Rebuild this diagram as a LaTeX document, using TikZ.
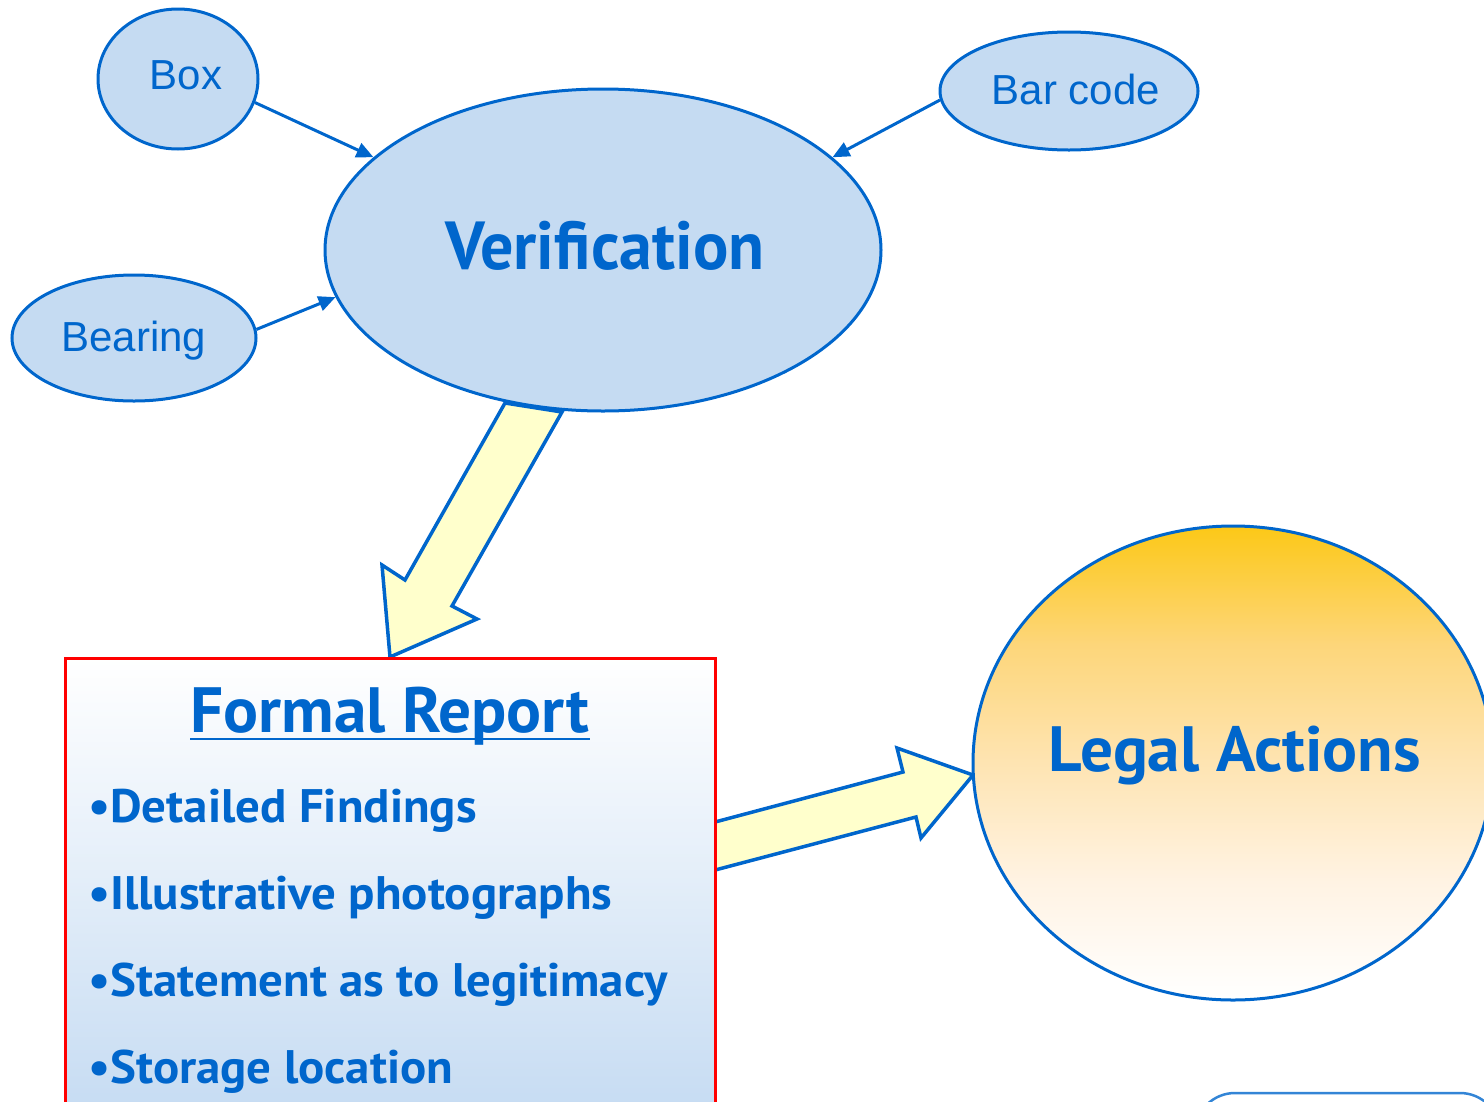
\documentclass[tikz,border=0pt]{standalone}
\usepackage{fontspec}
\setmainfont{Liberation Sans}
\newfontfamily\dinA[FakeStretch=0.97]{PT Sans}
\newfontfamily\dinB[FakeStretch=1.02]{PT Sans}
\newfontfamily\dinC[FakeStretch=1.04]{PT Sans}
\usetikzlibrary{shapes.geometric,arrows.meta}
\definecolor{eblue}{HTML}{0066CC}
\definecolor{efill}{HTML}{C5DBF2}
\definecolor{ayellow}{HTML}{FFFFCC}
\definecolor{lorange}{HTML}{FCC817}
\definecolor{lupper}{HTML}{FDD67A}
\definecolor{lmid}{HTML}{FEE4B2}
\definecolor{llower}{HTML}{FFF3E3}
\pgfdeclareverticalshading{legalshade}{100bp}{color(0bp)=(white); color(25bp)=(white); color(37.5bp)=(llower); color(50bp)=(lmid); color(62.5bp)=(lupper); color(75bp)=(lorange); color(100bp)=(lorange)}
\begin{document}
\begin{tikzpicture}[x=1pt,y=-1pt,
  oval/.style={ellipse, draw=eblue, line width=3pt, fill=efill, inner sep=0pt, text=eblue},
  small/.style={font=\fontsize{42}{50}\selectfont, text=eblue, anchor=base},
  blockarrow/.style={draw=eblue, line width=3.5pt, fill=ayellow, line join=miter},
  thin arrow/.style={draw=eblue, line width=3pt, -{Triangle[length=17pt,width=15pt]}},
  big/.style={text=eblue, anchor=base},
  bullet/.style={font=\dinC\bfseries\fontsize{47}{55}\selectfont, text=eblue, anchor=base west, inner sep=0pt}]
\useasboundingbox (0,0) rectangle (1484,1101);

% block arrows (drawn first, behind shapes)
\filldraw[blockarrow] (505,403) -- (405,580) -- (382,565) -- (390,657) -- (477,619) -- (452,606) -- (562,412) -- cycle;
\filldraw[blockarrow] (700,826) -- (903,772) -- (897,748) -- (973,775) -- (921,838) -- (916,817) -- (700,874) -- cycle;

% shapes
\node[oval, minimum width=556pt, minimum height=322pt] (verif) at (603,250) {};
\node[big, font=\dinA\bfseries\fontsize{68}{80}\selectfont] (veriftext) at (605,269) {Verification};
\node[oval, minimum width=160pt, minimum height=140pt] (box) at (178,79) {};
\node[small] (boxtext) at (186,89) {Box};
\node[oval, minimum width=244pt, minimum height=126pt] (bearing) at (134,338) {};
\node[small] (bearingtext) at (134,351) {Bearing};
\node[oval, minimum width=258pt, minimum height=118pt] (barcode) at (1069,91) {};
\node[small] (barcodetext) at (1076,104) {Bar code};

% legal actions circle
\node[ellipse, draw=eblue, line width=3pt, shading=legalshade,
  minimum width=520pt, minimum height=474pt, inner sep=0pt] (legal) at (1233,763) {};
\node[big, font=\dinB\bfseries\fontsize{64}{76}\selectfont] (legaltext) at (1235,771) {Legal Actions};

% formal report box
\path[draw=red, line width=3pt, top color=white, bottom color=efill] (65,658) rectangle (715,1120);
\node[big, font=\dinB\bfseries\fontsize{64}{76}\selectfont, inner sep=0pt] (frtitle) at (390,732) {Formal Report};
\draw[eblue, line width=2pt] ([yshift=-7pt]frtitle.base west) -- ([yshift=-7pt]frtitle.base east);
\node[bullet] (b1) at (88,822) {•Detailed Findings};
\node[bullet] (b2) at (88,909) {•Illustrative photographs};
\node[bullet] (b3) at (88,996) {•Statement as to legitimacy};
\node[bullet] (b4) at (88,1083) {•Storage location};

% thin connectors
\draw[thin arrow] (box.-17) -- (verif.158);
\draw[thin arrow] (barcode.-176) -- (verif.22);
\draw[thin arrow] (bearing.4) -- (verif.-170);

% bottom-right partial shape
\draw[eblue!80, line width=2.5pt, fill=white, rounded corners=40pt] (1195,1140) |- (1500,1093) -- (1500,1140);
\end{tikzpicture}
\end{document}
